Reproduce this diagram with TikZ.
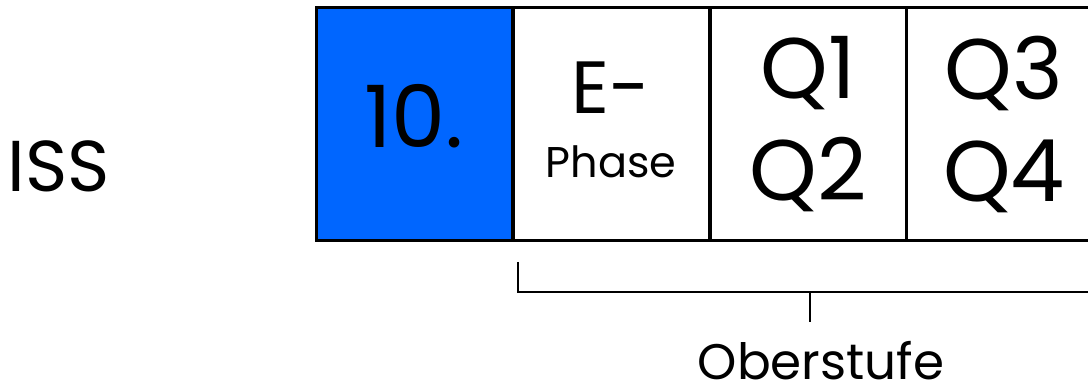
\documentclass[tikz,border=0pt]{standalone}
\usepackage{fontspec}
\setmainfont{Poppins}
\usepackage{tikz}
\usetikzlibrary{positioning}
\definecolor{klassenblau}{HTML}{0066FF}

\begin{document}
\begin{tikzpicture}[
    x=1pt, y=-1pt,
    stufe/.style={draw, line width=3pt, outer sep=0pt, inner sep=0pt, minimum width=196pt, minimum height=233pt, align=center},
    gross/.style={font=\fontsize{86}{102}\selectfont},
    klammer/.style={draw, line width=2.5pt}
]
\useasboundingbox (0,0) rectangle (1088,390);
\node[stufe, fill=klassenblau, gross, text depth=18pt] (zehn) at (414,124.5) {10.};
\node[stufe, font=\fontsize{74}{64}\selectfont, text depth=10pt] (ephase) at (611,124.5) {E-\\{\fontsize{43}{64}\selectfont Phase}};
\node[stufe, gross] (qeins) at (808,124.5) {Q1\\Q2};
\node[stufe, gross] (qdrei) at (1004,124.5) {Q3\\Q4};
\node[anchor=base, font=\fontsize{72}{90}\selectfont] (iss) at (59,192) {ISS};
\node[anchor=base, inner sep=0pt, font=\fontsize{50}{60}\selectfont] (oberstufe) at (821,379) {Oberstufe};
% Klammer unter der Oberstufe
\coordinate (klammerlinks) at (518,262);
\coordinate (klammerrechts) at (1100,292);
\coordinate (klammermitte) at (810,292);
\draw[klammer] (klammerlinks) |- (klammerrechts);
\draw[klammer] (klammermitte) -- ++(0,30);
\end{tikzpicture}
\end{document}
